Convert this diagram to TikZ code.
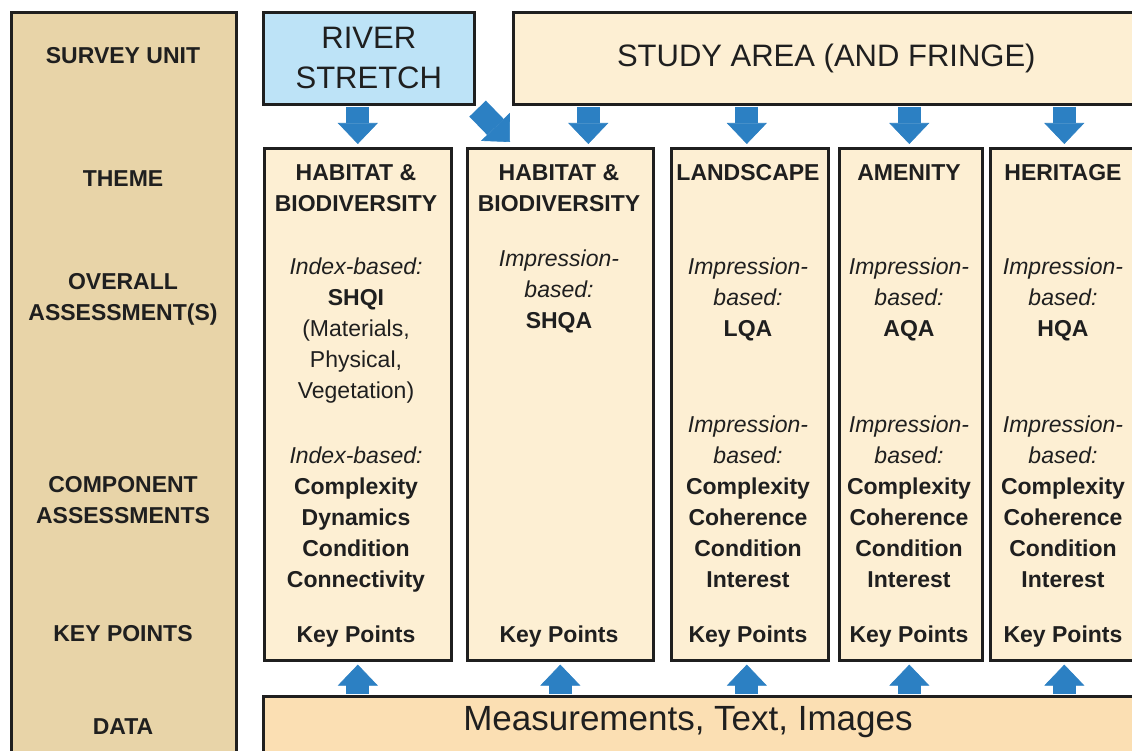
\documentclass[tikz,border=0pt]{standalone}
\usepackage{fontspec}
\setmainfont{Liberation Sans}
\usetikzlibrary{arrows.meta}
\usepackage{xcolor}
\definecolor{paneltan}{HTML}{E8D4A8}
\definecolor{colcream}{HTML}{FDEFD3}
\definecolor{riverblue}{HTML}{BDE3F7}
\definecolor{datapeach}{HTML}{FBDFB3}
\definecolor{arrowblue}{HTML}{2C80C3}
\definecolor{edge}{HTML}{1F1F1F}

\tikzset{
  box/.style={draw=edge, line width=2.6pt, rectangle, anchor=north west, inner sep=0pt, text=edge},
  lbl/.style={font=\fontsize{23}{31}\selectfont\bfseries, align=center, anchor=north, inner sep=0pt, text=edge},
  coltxt/.style={font=\fontsize{23}{31}\selectfont, align=center, anchor=north, inner sep=0pt, text=edge},
  bigarrow/.style={arrowblue, line width=23pt, -{Triangle[width=40pt,length=21pt,line width=0.6pt]}}
}

\begin{document}
\begin{tikzpicture}[x=1pt, y=-1pt]
\useasboundingbox (0,0) rectangle (1132,751);
\fill[white] (0,0) rectangle (1132,751);
\clip (0,0) rectangle (1132,751);

% left panel with the level names
\node[box, fill=paneltan, minimum width=225pt, minimum height=760pt] (panel) at (10,11) {};
\node[lbl] (lunit) at (123,47) {SURVEY UNIT};
\node[lbl] (ltheme) at (123,170) {THEME};
\node[lbl] (loverall) at (123,273) {OVERALL\\ASSESSMENT(S)};
\node[lbl] (lcomp) at (123,476) {COMPONENT\\ASSESSMENTS};
\node[lbl] (lkey) at (123,625) {KEY POINTS};
\node[lbl] (ldata) at (123,718) {DATA};

% survey units
\node[box, fill=riverblue, minimum width=211pt, minimum height=92pt, align=center,
      font=\fontsize{31}{40}\selectfont] (river) at (262,11) {RIVER\\STRETCH};
\node[box, fill=colcream, minimum width=626pt, minimum height=92pt,
      font=\fontsize{31}{40}\selectfont] (study) at (512,11) {STUDY AREA (AND FRINGE)};

% theme columns
\node[box, fill=colcream, minimum width=187pt, minimum height=512pt] (hab1) at (263,147) {};
\node[box, fill=colcream, minimum width=186pt, minimum height=512pt] (hab2) at (466,147) {};
\node[box, fill=colcream, minimum width=157pt, minimum height=512pt] (land) at (670,147) {};
\node[box, fill=colcream, minimum width=143pt, minimum height=512pt] (amen) at (838,147) {};
\node[box, fill=colcream, minimum width=150pt, minimum height=512pt] (herit) at (989,147) {};

% data
\node[box, fill=datapeach, minimum width=880pt, minimum height=80pt] (data) at (262,695) {};
\node[font=\fontsize{35}{40}\selectfont, text=edge, inner sep=0pt] (datatxt) at (688,722) {Measurements, Text, Images};

% column 1
\node[lbl] (h1a) at (356,164) {HABITAT \&\\BIODIVERSITY};
\node[coltxt] (h1b) at (356,258) {\textit{Index-based:}\\\textbf{SHQI}\\(Materials,\\Physical,\\Vegetation)};
\node[coltxt] (h1c) at (356,447) {\textit{Index-based:}\\\textbf{Complexity}\\\textbf{Dynamics}\\\textbf{Condition}\\\textbf{Connectivity}};
\node[lbl] (h1k) at (356,626) {Key Points};

% column 2
\node[lbl] (h2a) at (559,164) {HABITAT \&\\BIODIVERSITY};
\node[coltxt] (h2b) at (559,250) {\textit{Impression-}\\\textit{based:}\\\textbf{SHQA}};
\node[lbl] (h2k) at (559,626) {Key Points};

% column 3
\node[lbl] (l3a) at (748,164) {LANDSCAPE};
\node[coltxt] (l3b) at (748,258) {\textit{Impression-}\\\textit{based:}\\\textbf{LQA}};
\node[coltxt] (l3c) at (748,416) {\textit{Impression-}\\\textit{based:}\\\textbf{Complexity}\\\textbf{Coherence}\\\textbf{Condition}\\\textbf{Interest}};
\node[lbl] (l3k) at (748,626) {Key Points};

% column 4
\node[lbl] (a4a) at (909,164) {AMENITY};
\node[coltxt] (a4b) at (909,258) {\textit{Impression-}\\\textit{based:}\\\textbf{AQA}};
\node[coltxt] (a4c) at (909,416) {\textit{Impression-}\\\textit{based:}\\\textbf{Complexity}\\\textbf{Coherence}\\\textbf{Condition}\\\textbf{Interest}};
\node[lbl] (a4k) at (909,626) {Key Points};

% column 5
\node[lbl] (r5a) at (1063,164) {HERITAGE};
\node[coltxt] (r5b) at (1063,258) {\textit{Impression-}\\\textit{based:}\\\textbf{HQA}};
\node[coltxt] (r5c) at (1063,416) {\textit{Impression-}\\\textit{based:}\\\textbf{Complexity}\\\textbf{Coherence}\\\textbf{Condition}\\\textbf{Interest}};
\node[lbl] (r5k) at (1063,626) {Key Points};

% arrows down from the survey units
\coordinate (r1) at (hab1.north |- river.south);
\draw[bigarrow] ([yshift=-1.3pt]r1) -- ([yshift=3pt]hab1.north);
\coordinate (r2) at ([xshift=2pt,yshift=-3pt]river.south east);
\coordinate (r2tip) at ([xshift=44pt,yshift=5pt]hab2.north west);
\draw[bigarrow] (r2) -- (r2tip);
\coordinate (s2) at ([xshift=28pt]hab2.north |- study.south);
\draw[bigarrow] ([yshift=-1.3pt]s2) -- ([xshift=28pt,yshift=3pt]hab2.north);
\coordinate (s3) at ([xshift=-3pt]land.north |- study.south);
\draw[bigarrow] ([yshift=-1.3pt]s3) -- ([xshift=-3pt,yshift=3pt]land.north);
\coordinate (s4) at ([xshift=-1.5pt]amen.north |- study.south);
\draw[bigarrow] ([yshift=-1.3pt]s4) -- ([xshift=-1.5pt,yshift=3pt]amen.north);
\coordinate (s5) at ([xshift=-1pt]herit.north |- study.south);
\draw[bigarrow] ([yshift=-1.3pt]s5) -- ([xshift=-1pt,yshift=3pt]herit.north);

% arrows up from the data
\coordinate (d1) at (hab1.south |- data.north);
\draw[bigarrow] ([yshift=1.3pt]d1) -- ([yshift=-3pt]hab1.south);
\coordinate (d2) at (hab2.south |- data.north);
\draw[bigarrow] ([yshift=1.3pt]d2) -- ([yshift=-3pt]hab2.south);
\coordinate (d3) at ([xshift=-3pt]land.south |- data.north);
\draw[bigarrow] ([yshift=1.3pt]d3) -- ([xshift=-3pt,yshift=-3pt]land.south);
\coordinate (d4) at ([xshift=-1.5pt]amen.south |- data.north);
\draw[bigarrow] ([yshift=1.3pt]d4) -- ([xshift=-1.5pt,yshift=-3pt]amen.south);
\coordinate (d5) at ([xshift=-1pt]herit.south |- data.north);
\draw[bigarrow] ([yshift=1.3pt]d5) -- ([xshift=-1pt,yshift=-3pt]herit.south);
\end{tikzpicture}
\end{document}
